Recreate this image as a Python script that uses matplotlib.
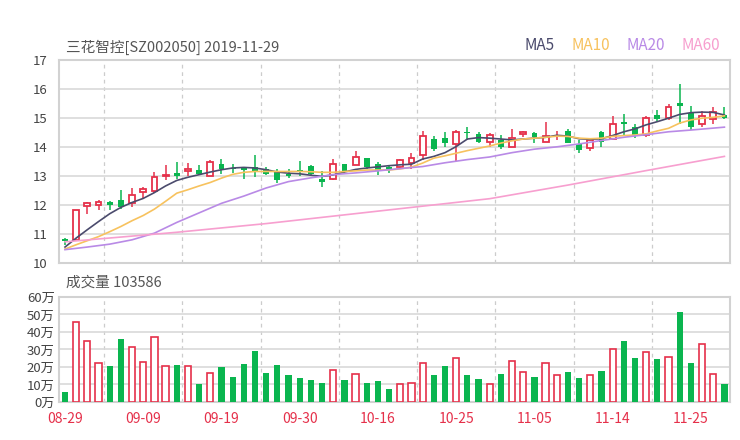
import numpy as np
import matplotlib.pyplot as plt

plt.rcParams['font.family'] = ['Noto Sans CJK SC', 'DejaVu Sans']

title = '三花智控[SZ002050] 2019-11-29'
vol_title = '成交量 103586'

# daily candles (open, close, high, low)
opens = [10.82, 10.79, 11.97, 11.99, 12.11, 12.16, 12.06, 12.44, 12.49, 12.98,
         13.09, 13.16, 13.21, 13.01, 13.41, 13.28, 13.31, 13.31, 13.25, 13.13,
         13.07, 13.21, 13.34, 12.90, 12.89, 13.41, 13.37, 13.62, 13.41, 13.29,
         13.32, 13.44, 13.71, 14.27, 14.32, 14.09, 14.52, 14.44, 14.18, 14.22,
         14.01, 14.44, 14.48, 14.18, 14.36, 14.53, 14.10, 13.95, 14.51, 14.27,
         14.85, 14.70, 14.40, 15.11, 14.98, 15.52, 15.16, 14.78, 14.97, 15.11]
closes = [10.74, 11.82, 12.06, 12.09, 12.00, 11.92, 12.32, 12.54, 12.97, 13.03,
          12.98, 13.25, 13.06, 13.46, 13.23, 13.24, 13.20, 13.14, 13.07, 12.86,
          12.98, 13.14, 13.06, 12.79, 13.40, 13.18, 13.64, 13.31, 13.18, 13.21,
          13.53, 13.61, 14.36, 13.94, 14.15, 14.52, 14.48, 14.18, 14.41, 14.01,
          14.30, 14.51, 14.33, 14.38, 14.39, 14.15, 13.89, 14.24, 14.18, 14.79,
          14.80, 14.41, 14.99, 14.96, 15.38, 15.42, 14.67, 15.06, 15.22, 15.01]
highs = [10.85, 11.83, 12.11, 12.17, 12.12, 12.51, 12.58, 12.63, 13.13, 13.36,
         13.48, 13.44, 13.38, 13.53, 13.58, 13.41, 13.32, 13.71, 13.30, 13.23,
         13.23, 13.51, 13.38, 13.15, 13.58, 13.42, 13.85, 13.63, 13.47, 13.38,
         13.59, 13.80, 14.55, 14.36, 14.51, 14.59, 14.67, 14.50, 14.47, 14.41,
         14.61, 14.55, 14.51, 14.86, 14.55, 14.62, 14.22, 14.30, 14.55, 15.05,
         15.13, 14.79, 15.06, 15.28, 15.47, 16.17, 15.42, 15.24, 15.37, 15.36]
lows = [10.62, 10.78, 11.69, 11.83, 11.83, 11.85, 11.92, 12.25, 12.42, 12.84,
        12.89, 13.01, 13.03, 13.01, 13.06, 13.09, 12.90, 12.96, 13.02, 12.75,
        12.91, 12.98, 13.03, 12.63, 12.86, 13.10, 13.36, 13.24, 13.03, 13.08,
        13.24, 13.24, 13.55, 13.87, 14.01, 13.52, 14.24, 14.13, 14.01, 13.92,
        14.00, 14.33, 14.13, 14.17, 14.24, 14.13, 13.78, 13.87, 14.01, 14.26,
        14.41, 14.30, 14.33, 14.90, 14.93, 14.78, 14.59, 14.67, 14.80, 14.96]

# volume in 万
volumes = [5.7, 45.5, 34.8, 22.4, 20.4, 36.1, 31.3, 22.7, 37.1, 20.4,
           21.0, 20.4, 10.1, 16.6, 19.9, 14.5, 21.6, 28.9, 16.6, 21.0,
           15.3, 13.9, 12.6, 10.7, 18.0, 12.4, 15.9, 10.9, 12.0, 7.3,
           10.1, 10.7, 22.5, 15.5, 20.4, 25.4, 15.7, 13.2, 10.5, 16.2,
           23.5, 17.0, 14.3, 22.2, 15.7, 17.0, 13.6, 15.3, 17.6, 30.2,
           35.0, 25.0, 28.5, 24.8, 25.8, 51.4, 22.2, 33.1, 16.2, 10.36]

ma5 = [10.54, 10.85, 11.14, 11.42, 11.69, 11.91, 12.08, 12.22, 12.42, 12.65,
       12.84, 12.95, 13.04, 13.13, 13.21, 13.27, 13.29, 13.27, 13.21, 13.13,
       13.09, 13.07, 13.02, 12.98, 13.03, 13.13, 13.22, 13.27, 13.31, 13.35,
       13.38, 13.40, 13.58, 13.67, 13.80, 14.01, 14.27, 14.32, 14.30, 14.27,
       14.24, 14.27, 14.30, 14.33, 14.40, 14.37, 14.28, 14.26, 14.28, 14.39,
       14.52, 14.62, 14.76, 14.87, 14.99, 15.12, 15.18, 15.20, 15.19, 15.10]
ma10 = [10.47, 10.62, 10.76, 10.90, 11.07, 11.25, 11.45, 11.63, 11.85, 12.12,
        12.40, 12.52, 12.65, 12.77, 12.92, 13.05, 13.12, 13.15, 13.15, 13.15,
        13.15, 13.15, 13.14, 13.12, 13.12, 13.15, 13.17, 13.20, 13.20, 13.20,
        13.24, 13.30, 13.44, 13.61, 13.69, 13.78, 13.87, 13.95, 14.03, 14.13,
        14.21, 14.27, 14.30, 14.33, 14.37, 14.36, 14.30, 14.28, 14.30, 14.36,
        14.39, 14.41, 14.45, 14.55, 14.64, 14.82, 14.93, 14.99, 15.02, 15.07]
ma20_idx = [0, 2, 4, 6, 8, 10, 12, 14, 16, 18, 20, 22, 24, 26, 28, 30, 32, 34,
            36, 38, 40, 42, 44, 46, 48, 50, 52, 54, 56, 59]
ma20 = [10.45, 10.54, 10.64, 10.79, 11.02, 11.39, 11.72, 12.05, 12.30, 12.58,
        12.80, 12.93, 13.04, 13.10, 13.17, 13.25, 13.32, 13.45, 13.56, 13.65,
        13.80, 13.92, 14.00, 14.10, 14.22, 14.33, 14.42, 14.52, 14.58, 14.68]
ma60_idx = [0, 10, 18, 28, 38, 45, 52, 59]
ma60 = [10.72, 11.05, 11.35, 11.78, 12.21, 12.68, 13.18, 13.67]

tick_idx = [0, 7, 14, 21, 28, 35, 42, 49, 56]
tick_labels = ['08-29', '09-09', '09-19', '09-30', '10-16', '10-25', '11-05', '11-14', '11-25']

RED = '#e5304a'
GREEN = '#0ab54f'
GRID = '#d9d9d9'
SPINE = '#d2d2d2'

x = np.arange(len(closes))
o = np.array(opens)
c = np.array(closes)
h = np.array(highs)
l = np.array(lows)
up = c >= o

fig = plt.figure(figsize=(7.4, 4.4), dpi=100)
ax = fig.add_axes([0.0797, 0.403, 0.9068, 0.4607])
axv = fig.add_axes([0.0797, 0.0864, 0.9068, 0.2386])

for a in (ax, axv):
    for s in a.spines.values():
        s.set_color(SPINE)
        s.set_linewidth(1.5)
    a.tick_params(length=0, colors='#444444', labelsize=9.5)
    a.set_xlim(-0.54, 59.5)
    for k in range(8):
        a.axvline(3.5 + 7 * k, color='#cccccc', lw=0.9, ls=(0, (3, 3)), zorder=0)

# price panel
ax.set_ylim(10, 17)
ax.set_yticks(range(10, 18))
for yv in range(11, 17):
    ax.axhline(yv, color=GRID, lw=1.2, zorder=0)
ax.set_xticks([])

w = 0.52
top = np.maximum(o, c)
bot = np.minimum(o, c)
body = np.maximum(top - bot, 0.025)

# green candles
g = ~up
ax.vlines(x[g], l[g], h[g], color=GREEN, lw=1.1, zorder=3)
ax.bar(x[g], body[g], bottom=bot[g], width=w, color=GREEN, zorder=4)
# red hollow candles
ax.vlines(x[up], l[up], bot[up], color=RED, lw=1.1, zorder=3)
ax.vlines(x[up], top[up], h[up], color=RED, lw=1.1, zorder=3)
ax.bar(x[up], body[up], bottom=bot[up], width=w, facecolor='white',
       edgecolor=RED, linewidth=1.3, zorder=4)

ax.plot(x, ma5, color='#4b4b6d', lw=1.2, label='MA5', zorder=5)
ax.plot(x, ma10, color='#f7c25e', lw=1.2, label='MA10', zorder=5)
ax.plot(ma20_idx, ma20, color='#b98ae6', lw=1.2, label='MA20', zorder=5)
ax.plot(ma60_idx, ma60, color='#f79fcf', lw=1.2, label='MA60', zorder=5)

leg = ax.legend(loc='lower right', bbox_to_anchor=(0.995, 1.0), ncol=4, frameon=False,
                handlelength=0, handletextpad=0, columnspacing=1.1,
                labelcolor='linecolor', fontsize=11, borderaxespad=0.0)

fig.text(66 / 740, 1 - 47 / 440, title, color='#555555', fontsize=10.5, va='center')

# volume panel
axv.set_ylim(0, 60)
axv.set_yticks(range(0, 61, 10))
axv.set_yticklabels([f'{v}万' for v in range(0, 61, 10)])
for yv in range(10, 60, 10):
    axv.axhline(yv, color=GRID, lw=1.2, zorder=0)
vol = np.array(volumes)
axv.bar(x[g], vol[g], width=0.56, color=GREEN, zorder=3)
axv.bar(x[up], vol[up], width=0.56, facecolor='white', edgecolor=RED,
        linewidth=1.2, zorder=3)
axv.set_xticks(tick_idx)
axv.set_xticklabels(tick_labels, color=RED, fontsize=10)
axv.tick_params(axis='x', pad=7)
axv.tick_params(axis='y', pad=3)
ax.tick_params(axis='y', pad=8)

fig.text(66 / 740, 1 - 283 / 440, vol_title, color='#555555', fontsize=10.5, va='center')

fig.savefig('out.png', dpi=100)
